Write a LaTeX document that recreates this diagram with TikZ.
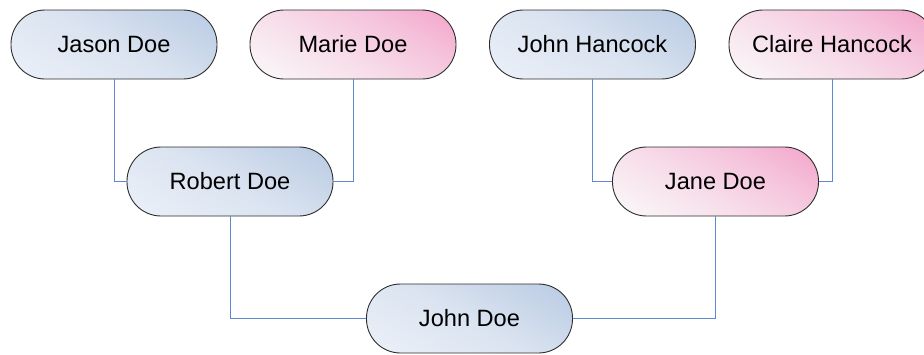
\documentclass[tikz,border=0pt]{standalone}
\usepackage{fontspec}
\setmainfont{Liberation Sans}
\definecolor{edgeline}{RGB}{95,135,210}
\definecolor{boxline}{RGB}{45,45,45}
\definecolor{blueA}{RGB}{236,241,249}
\definecolor{blueM}{RGB}{218,227,240}
\definecolor{blueB}{RGB}{184,202,227}
\definecolor{pinkA}{RGB}{250,250,250}
\definecolor{pinkM}{RGB}{247,222,234}
\definecolor{pinkN}{RGB}{245,196,220}
\definecolor{pinkB}{RGB}{243,163,202}
% diagonal fills: light at the lower left, strong at the upper right
\pgfdeclareverticalshading{bluefill}{100bp}{color(0bp)=(blueA); color(25bp)=(blueA);
  color(50bp)=(blueM); color(75bp)=(blueB); color(100bp)=(blueB)}
\pgfdeclareverticalshading{pinkfill}{100bp}{color(0bp)=(pinkA); color(25bp)=(pinkA);
  color(45bp)=(pinkM); color(60bp)=(pinkN); color(75bp)=(pinkB); color(100bp)=(pinkB)}
\tikzset{
  person/.style={draw=boxline, line width=0.9pt, rectangle, rounded corners=34pt,
    minimum width=206pt, minimum height=69pt, inner sep=0pt,
    font=\fontsize{23.6}{28}\selectfont},
  diagfill/.style={path picture={
    \begin{scope}[transform canvas={rotate around={-30:(path picture bounding box.center)}}]
      \shade[shading=#1]
        ([shift={(-110pt,-82pt)}]path picture bounding box.center)
        rectangle ([shift={(110pt,82pt)}]path picture bounding box.center);
    \end{scope}}},
  male/.style={person, diagfill=bluefill},
  female/.style={person, diagfill=pinkfill},
  link/.style={draw=edgeline, line width=0.9pt}
}
\begin{document}
\begin{tikzpicture}[x=1pt, y=-1pt]
  \useasboundingbox (0,0) rectangle (924,354);
  \clip (0,0) rectangle (924,354);
  % grandparents
  \node[male]   (jason)  at (114,44.5)   {Jason Doe};
  \node[female] (marie)  at (353,44.5)   {Marie Doe};
  \node[male]   (johnh)  at (592.5,44.5) {John Hancock};
  \node[female] (claire) at (832,44.5)   {Claire Hancock};
  % parents
  \node[male]   (robert) at (230,181.5)  {Robert Doe};
  \node[female] (jane)   at (715.5,181.5){Jane Doe};
  % child
  \node[male]   (john)   at (469.5,318.5){John Doe};
  % family lines
  \draw[link] (jason.south)  |- (robert.west);
  \draw[link] (marie.south)  |- (robert.east);
  \draw[link] (johnh.south)  |- (jane.west);
  \draw[link] (claire.south) |- (jane.east);
  \draw[link] (robert.south) |- (john.west);
  \draw[link] (jane.south)   |- (john.east);
\end{tikzpicture}
\end{document}
